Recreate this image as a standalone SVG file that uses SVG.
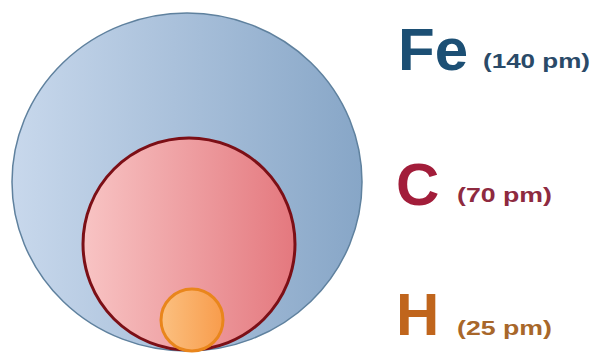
<svg xmlns="http://www.w3.org/2000/svg" width="593" height="354" viewBox="0 0 593 354">
  <defs>
    <linearGradient id="gBlue" x1="0" y1="0" x2="1" y2="0">
      <stop offset="0" stop-color="#c8d8ec"/>
      <stop offset="1" stop-color="#87a6c7"/>
    </linearGradient>
    <linearGradient id="gRed" x1="0" y1="0" x2="1" y2="0">
      <stop offset="0" stop-color="#f8c4c4"/>
      <stop offset="1" stop-color="#e4787e"/>
    </linearGradient>
    <linearGradient id="gOrange" x1="0" y1="0" x2="1" y2="0">
      <stop offset="0" stop-color="#fbc080"/>
      <stop offset="1" stop-color="#f89c4c"/>
    </linearGradient>
  </defs>
  <style>
    .sym { font-family: "Liberation Sans", Arial, sans-serif; font-weight: bold; font-size: 60px; }
    .size { font-family: "Liberation Sans", Arial, sans-serif; font-weight: bold; font-size: 21px; }
  </style>
  <rect width="593" height="354" fill="#ffffff"/>
  <g id="fe">
    <ellipse cx="187" cy="182" rx="175" ry="169" fill="url(#gBlue)" stroke="#5f819e" stroke-width="1.5"/>
  </g>
  <g id="c">
    <circle cx="189" cy="244" r="106" fill="url(#gRed)" stroke="#7c0f16" stroke-width="3"/>
  </g>
  <g id="h">
    <circle cx="192" cy="320" r="31" fill="url(#gOrange)" stroke="#e9861c" stroke-width="3"/>
  </g>
  <g id="labels">
    <text class="sym" x="398" y="70" fill="#1c4f74">Fe</text>
    <text class="size" x="483" y="68" fill="#2a4a68" textLength="107" lengthAdjust="spacingAndGlyphs">(140 pm)</text>
    <text class="sym" x="396" y="205" fill="#a21d3a">C</text>
    <text class="size" x="457" y="202" fill="#8e2a40" textLength="95" lengthAdjust="spacingAndGlyphs">(70 pm)</text>
    <text class="sym" x="396" y="335" fill="#c0651c">H</text>
    <text class="size" x="457" y="335" fill="#a8672a" textLength="95" lengthAdjust="spacingAndGlyphs">(25 pm)</text>
  </g>
</svg>
